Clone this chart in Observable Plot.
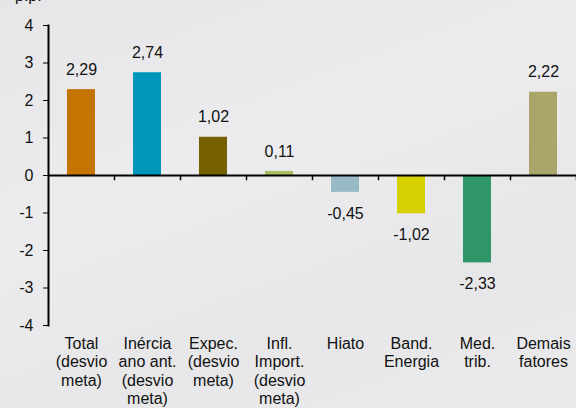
<!DOCTYPE html>
<html>
<head>
<meta charset="utf-8">
<script src="https://cdn.jsdelivr.net/npm/d3@7"></script>
<script src="https://cdn.jsdelivr.net/npm/@observablehq/plot@0.6"></script>
<style>
  html, body { margin: 0; padding: 0; }
  body { width: 576px; height: 408px; overflow: hidden; position: relative;
         background: linear-gradient(160deg, #e6e6e8 0%, #ececee 40%, #e7e7e9 70%, #eaeaec 100%);
         font-family: "Liberation Sans", Arial, sans-serif; }
  #unit { position: absolute; left: 15px; top: -13px; font-size: 16px; color: #111; }
  #chart { position: absolute; left: 0; top: 0; }
</style>
</head>
<body>
<div id="unit">p.p.</div>
<div id="chart"></div>
<script>
const categories = [
  "Total\n(desvio\nmeta)",
  "Inércia\nano ant.\n(desvio\nmeta)",
  "Expec.\n(desvio\nmeta)",
  "Infl.\nImport.\n(desvio\nmeta)",
  "Hiato",
  "Band.\nEnergia",
  "Med.\ntrib.",
  "Demais\nfatores"
];
const values = [2.29, 2.74, 1.02, 0.11, -0.45, -1.02, -2.33, 2.22];
const valueLabels = ["2,29", "2,74", "1,02", "0,11", "-0,45", "-1,02", "-2,33", "2,22"];
const barColors = ["#C47400", "#0096BA", "#756000", "#A8C060", "#98BAC6", "#D6D000", "#2E9668", "#AAA56A"];
const yTicks = [-4, -3, -2, -1, 0, 1, 2, 3, 4];

const data = categories.map((c, i) => ({cat: c, value: values[i], label: valueLabels[i], color: barColors[i]}));

const W = 576, H = 408, mL = 48, mR = 0;
const step = (W - mL - mR) / categories.length;
const FONT = "'Liberation Sans', Arial, sans-serif";

const chart = Plot.plot({
  width: W,
  height: H,
  marginLeft: mL,
  marginRight: mR,
  marginTop: 25,
  marginBottom: 83,
  style: {background: "transparent", fontFamily: FONT, fontSize: "16px", color: "#111"},
  x: {domain: categories, paddingInner: 0.576, paddingOuter: 0.288, axis: null, label: null},
  y: {domain: [-4, 4], axis: null, label: null},
  color: {type: "identity"},
  marks: [
    Plot.barY(data, {x: "cat", y: "value", fill: "color"}),
    Plot.ruleY([0], {stroke: "#000", strokeWidth: 2}),
    Plot.ruleX(categories, {x: d => d, y1: 0, y2: -0.14, dx: step / 2, stroke: "#000", strokeWidth: 1.5}),
    Plot.frame({anchor: "left", stroke: "#000", strokeWidth: 2}),
    Plot.axisY({ticks: yTicks, tickFormat: d => String(d), tickSize: 5, tickPadding: 10, fontSize: 16, fontFamily: FONT, stroke: "#000", label: null}),
    Plot.axisX({anchor: "bottom", tickSize: 0, tickPadding: 10, fontSize: 16, fontFamily: FONT, lineHeight: 1.16, tickFormat: d => d, label: null}),
    Plot.text(data.filter(d => d.value >= 0), {x: "cat", y: "value", text: "label", dy: -20, fontSize: 16, fontFamily: FONT, fill: "#111"}),
    Plot.text(data.filter(d => d.value < 0), {x: "cat", y: "value", text: "label", dy: 21, fontSize: 16, fontFamily: FONT, fill: "#111"})
  ]
});
document.getElementById("chart").appendChild(chart);
</script>
</body>
</html>
